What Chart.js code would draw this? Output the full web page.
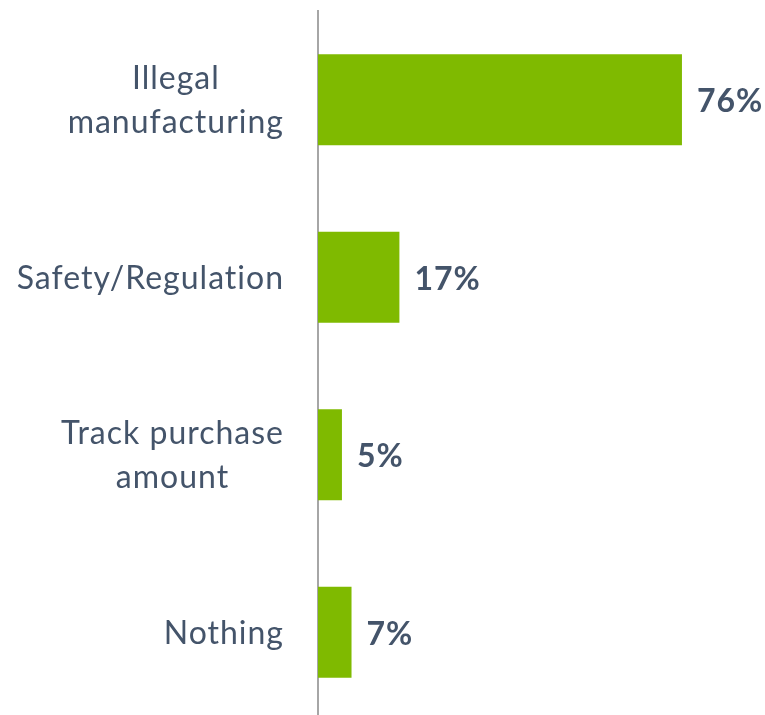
<!DOCTYPE html>
<html><head><meta charset="utf-8">
<script src="https://cdn.jsdelivr.net/npm/chart.js@4"></script>
<style>html,body{margin:0;padding:0;overflow:hidden;background:#fff}canvas{display:block}</style>
</head><body><canvas id="c" width="765" height="721"></canvas>
<script>
const categories = [["Illegal","manufacturing"],["Safety/Regulation"],["Track purchase","amount"],["Nothing"]];
const values = [76, 17, 5, 7];
const valueLabels = ["76%", "17%", "5%", "7%"];

const TEXT = '#44546A';
const FONT = 'Lato, "Open Sans", sans-serif';

const labelPlugin = {
  id: 'labels',
  afterDatasetsDraw(chart) {
    const ctx = chart.ctx;
    const yScale = chart.scales.y;
    const meta = chart.getDatasetMeta(0);
    ctx.save();
    ctx.fillStyle = TEXT;
    // category labels
    ctx.font = '32px ' + FONT;
    ctx.letterSpacing = '1px';
    const cap = 22.5, lh = 44, rightEdge = 283;
    categories.forEach((lines, i) => {
      const cy = yScale.getPixelForValue(i);
      const widths = lines.map(l => ctx.measureText(l).width - 1);
      const maxW = Math.max(...widths);
      const blockLeft = rightEdge - maxW;
      ctx.textAlign = 'left';
      ctx.textBaseline = 'alphabetic';
      const n = lines.length;
      lines.forEach((l, j) => {
        const y = cy + (j - (n - 1) / 2) * lh + cap / 2;
        ctx.fillText(l, blockLeft + (maxW - widths[j]) / 2, y);
      });
    });
    // value labels
    ctx.font = 'bold 32px ' + FONT;
    ctx.letterSpacing = '1px';
    ctx.textAlign = 'left';
    meta.data.forEach((bar, i) => {
      ctx.fillText(valueLabels[i], bar.x + 15, bar.y + cap / 2 + 1);
    });
    ctx.restore();
  }
};

new Chart(document.getElementById('c'), {
  type: 'bar',
  data: {
    labels: categories,
    datasets: [{
      data: values,
      backgroundColor: '#7FBA00',
      borderWidth: 0,
      barPercentage: 0.513,
      categoryPercentage: 1
    }]
  },
  options: {
    indexAxis: 'y',
    responsive: false,
    devicePixelRatio: 1,
    animation: false,
    layout: { padding: { top: 11, right: 16, bottom: 0, left: 0 } },
    plugins: { legend: { display: false }, tooltip: { enabled: false } },
    scales: {
      x: { display: false, min: 0, max: 90 },
      y: {
        ticks: { display: false },
        grid: { display: false, drawTicks: false },
        border: { display: true, color: '#A6A6A6', width: 2 },
        afterFit(s) { s.width = 318; }
      }
    }
  },
  plugins: [labelPlugin]
});
</script>
</body></html>
